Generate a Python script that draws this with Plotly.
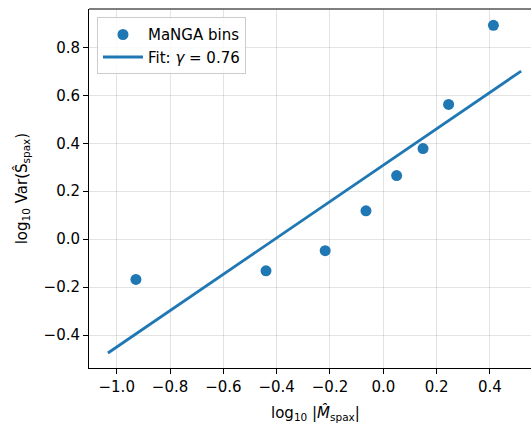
import plotly.graph_objects as go

# Data
bin_x = [-0.928, -0.44, -0.218, -0.065, 0.05, 0.149, 0.245, 0.413]
bin_y = [-0.168, -0.132, -0.048, 0.118, 0.265, 0.378, 0.562, 0.892]
fit_x = [-1.033, 0.517]
fit_y = [-0.475, 0.701]
x_ticks = [-1.0, -0.8, -0.6, -0.4, -0.2, 0.0, 0.2, 0.4]
y_ticks = [-0.4, -0.2, 0.0, 0.2, 0.4, 0.6, 0.8]

BLUE = "#1f77b4"
FONT = "DejaVu Sans"

fig = go.Figure()
fig.add_trace(go.Scatter(
    x=bin_x, y=bin_y, mode="markers", name="MaNGA bins",
    marker=dict(color=BLUE, size=11, line=dict(width=0)),
))
fig.add_trace(go.Scatter(
    x=fit_x, y=fit_y, mode="lines", name="Fit: <i>γ</i> = 0.76",
    line=dict(color=BLUE, width=2.8),
))

def fmt(v):
    s = f"{v:.1f}"
    return s.replace("-", "\u2212")

axis_common = dict(
    showgrid=True, gridcolor="rgba(176,176,176,0.35)", gridwidth=1,
    zeroline=False, showline=True, linecolor="black", linewidth=1,
    ticks="outside", ticklen=5, tickwidth=1, tickcolor="black",
    tickfont=dict(family=FONT, size=15, color="black"),
)

fig.update_layout(
    width=531, height=427,
    margin=dict(l=89, r=0, t=9, b=59),
    paper_bgcolor="white", plot_bgcolor="white",
    font=dict(family=FONT, size=15, color="black"),
    showlegend=True,
    legend=dict(
        x=0.018, y=0.977, xanchor="left", yanchor="top",
        bgcolor="rgba(255,255,255,0.8)", bordercolor="#cccccc", borderwidth=1,
        font=dict(family=FONT, size=15, color="black"),
        itemwidth=40, tracegroupgap=2,
    ),
    xaxis=dict(
        range=[-1.104, 0.554], tickvals=x_ticks,
        ticktext=[fmt(v) for v in x_ticks], mirror=False,
        **axis_common,
    ),
    yaxis=dict(
        range=[-0.5375, 0.96], tickvals=y_ticks,
        ticktext=[fmt(v) for v in y_ticks], mirror=False,
        **axis_common,
    ),
    annotations=[
        dict(text="log<sub>10</sub> |<i>M̂</i><sub>spax</sub>|",
             xref="paper", yref="paper", x=0.513, y=-0.125,
             xanchor="center", yanchor="middle", showarrow=False,
             font=dict(family=FONT, size=15, color="black")),
        dict(text="log<sub>10</sub> Var(Ŝ<sub>spax</sub>)",
             xref="paper", yref="paper", x=-0.152, y=0.5,
             xanchor="center", yanchor="middle", showarrow=False, textangle=-90,
             font=dict(family=FONT, size=15, color="black")),
    ],
    shapes=[
        dict(type="line", xref="paper", yref="paper", x0=0, x1=1, y0=1, y1=1,
             line=dict(color="black", width=1.2)),
    ],
)

fig.write_html("out.html")
